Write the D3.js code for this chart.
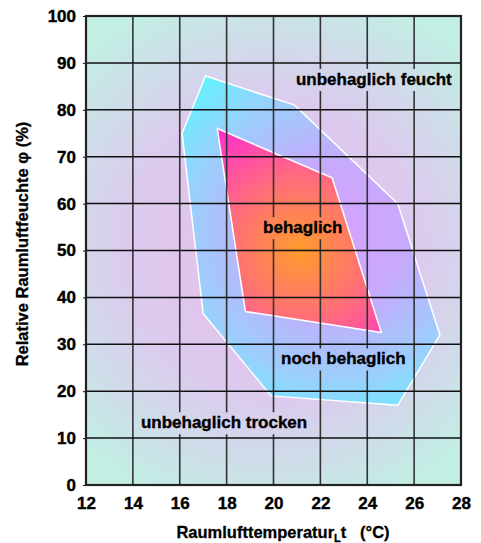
<!DOCTYPE html>
<html>
<head>
<meta charset="utf-8">
<script src="https://cdn.jsdelivr.net/npm/d3@7"></script>
<style>
  body { margin: 0; background: #fff; }
  svg text { font-family: "Liberation Sans", Arial, sans-serif; font-weight: bold; fill: #000; }
</style>
</head>
<body>
<svg id="chart"></svg>
<script>
// values
const xTicks = [12, 14, 16, 18, 20, 22, 24, 26, 28];
const yTicks = [0, 10, 20, 30, 40, 50, 60, 70, 80, 90, 100];

// "noch behaglich" zone (temperature, humidity)
const outerZone = [[17.1, 87.2], [20.9, 81], [25.3, 60], [27.1, 32], [25.3, 17], [19.9, 19], [17.0, 36.5], [16.1, 75]];
// "behaglich" zone
const innerZone = [[17.6, 76], [22.5, 65.5], [24.6, 32.5], [18.8, 37]];

const zoneLabels = ["unbehaglich feucht", "behaglich", "noch behaglich", "unbehaglich trocken"];
const labelPos = [[24.28, 85.3], [21.25, 53.7], [22.98, 25.7], [17.89, 12.1]];

const w = 481, h = 543;
const x = d3.scaleLinear().domain([12, 28]).range([86, 461]);
const y = d3.scaleLinear().domain([0, 100]).range([485, 16]);

const svg = d3.select("#chart").attr("width", w).attr("height", h);
const defs = svg.append("defs");

// gradients
function radial(id, cx, cy, r, stops) {
  const g = defs.append("radialGradient").attr("id", id)
    .attr("gradientUnits", "userSpaceOnUse")
    .attr("cx", cx).attr("cy", cy).attr("r", r);
  stops.forEach(s => g.append("stop").attr("offset", s[0]).attr("stop-color", s[1]));
}
radial("bg", 274, 250, 270, [[0, "#e6beec"], [0.55, "#dccaee"], [1, "#c2eee4"]]);
radial("outer", 335, 235, 205, [[0, "#d8a2ff"], [0.35, "#c6aafc"], [0.7, "#9ccefc"], [1, "#62f2ff"]]);
radial("inner", 300, 250, 150, [[0, "#ff9c2c"], [0.5, "#ff6a80"], [1, "#ff28d8"]]);

// background
svg.append("rect")
  .attr("x", x(12)).attr("y", y(100))
  .attr("width", x(28) - x(12)).attr("height", y(0) - y(100))
  .attr("fill", "url(#bg)");

const line = d3.line().x(d => x(d[0])).y(d => y(d[1])).curve(d3.curveLinearClosed);

svg.append("path").attr("d", line(outerZone))
  .attr("fill", "url(#outer)").attr("stroke", "#fff").attr("stroke-width", 1.5);
svg.append("path").attr("d", line(innerZone))
  .attr("fill", "url(#inner)").attr("stroke", "#fff").attr("stroke-width", 1.5);

// labels (measured first so grid gets gaps behind them)
const labels = svg.append("g");
labels.selectAll("text").data(zoneLabels).join("text")
  .attr("x", (d, i) => x(labelPos[i][0]))
  .attr("y", (d, i) => y(labelPos[i][1]))
  .attr("text-anchor", "middle")
  .attr("stroke", "#000").attr("stroke-width", 0.35)
  .style("font-size", "17px")
  .text(d => d);

const mask = defs.append("mask").attr("id", "gaps")
  .attr("maskUnits", "userSpaceOnUse").attr("x", 0).attr("y", 0).attr("width", w).attr("height", h);
mask.append("rect").attr("width", w).attr("height", h).attr("fill", "#fff");
labels.selectAll("text").each(function() {
  const b = this.getBBox();
  mask.append("rect").attr("x", b.x - 2).attr("y", b.y - 1)
    .attr("width", b.width + 4).attr("height", b.height + 3).attr("fill", "#000");
});

// grid
const grid = svg.insert("g", "g").attr("mask", "url(#gaps)");
grid.selectAll(".vx").data(xTicks.slice(1, -1)).join("line")
  .attr("x1", d => x(d)).attr("x2", d => x(d))
  .attr("y1", y(100)).attr("y2", y(0))
  .attr("stroke", "#333").attr("stroke-width", 1.6);
grid.selectAll(".hy").data(yTicks.slice(1, -1)).join("line")
  .attr("y1", d => y(d)).attr("y2", d => y(d))
  .attr("x1", x(12)).attr("x2", x(28))
  .attr("stroke", "#111").attr("stroke-width", 1.5);

// axes
const xAxis = d3.axisBottom(x).tickValues(xTicks).tickSize(0).tickPadding(12);
const gx = svg.append("g").attr("transform", `translate(0,${y(0)})`).call(xAxis);
gx.select(".domain").remove();
gx.selectAll("text").style("font-size", "17px").style("font-family", "Liberation Sans")
  .style("font-weight", "bold").attr("stroke", "#000").attr("stroke-width", 0.4);

const yAxis = d3.axisLeft(y).tickValues(yTicks).tickSize(3).tickPadding(7);
const gy = svg.append("g").attr("transform", `translate(${x(12)},0)`).call(yAxis);
gy.select(".domain").remove();
gy.selectAll("line").attr("stroke", "#111");
gy.selectAll("text").style("font-size", "17px").style("font-family", "Liberation Sans")
  .style("font-weight", "bold").attr("stroke", "#000").attr("stroke-width", 0.4);

// frame
svg.append("rect")
  .attr("x", x(12)).attr("y", y(100))
  .attr("width", x(28) - x(12)).attr("height", y(0) - y(100))
  .attr("fill", "none").attr("stroke", "#222").attr("stroke-width", 2.2);

// axis titles
const xt = svg.append("text").attr("x", 283).attr("y", 538)
  .attr("text-anchor", "middle").style("font-size", "16.5px")
  .attr("stroke", "#000").attr("stroke-width", 0.3);
xt.append("tspan").text("Raumlufttemperatur");
xt.append("tspan").attr("dy", 4).style("font-size", "11px").text("L");
xt.append("tspan").attr("dy", -4).text("t\u00a0\u00a0\u00a0(°C)");

svg.append("text")
  .attr("transform", "translate(28,244) rotate(-90)")
  .attr("text-anchor", "middle").style("font-size", "16.5px")
  .attr("stroke", "#000").attr("stroke-width", 0.3)
  .text("Relative Raumluftfeuchte φ (%)");
</script>
</body>
</html>
